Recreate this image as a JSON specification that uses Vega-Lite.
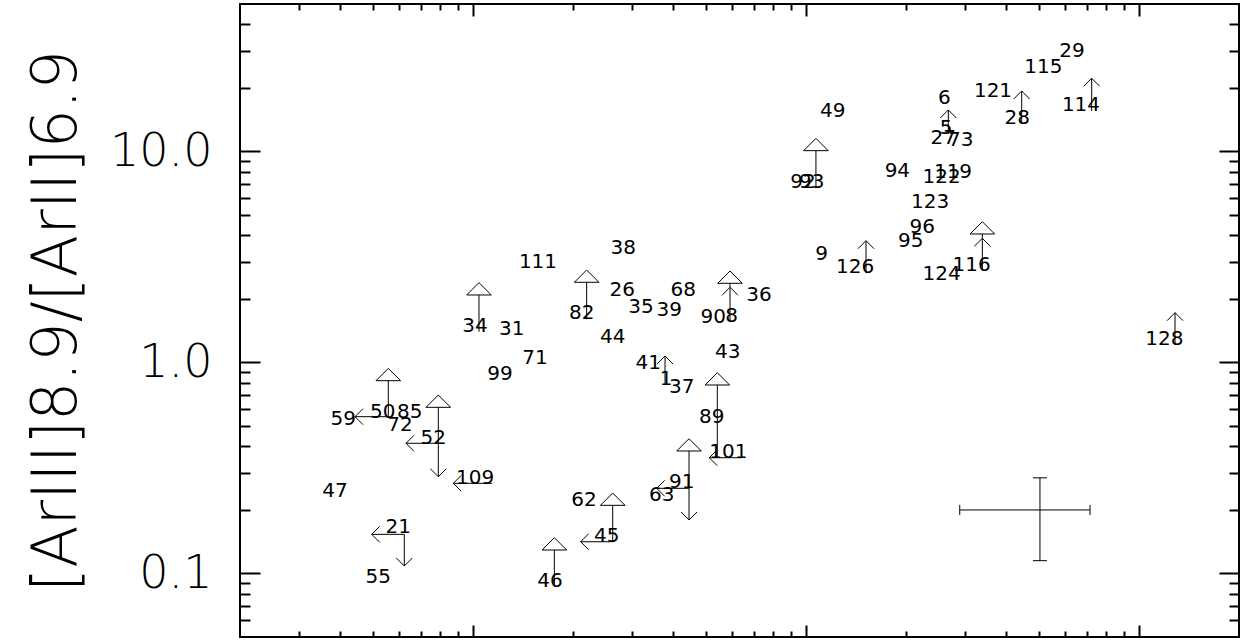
{
  "$schema": "https://vega.github.io/schema/vega-lite/v6.json",
  "width": 999,
  "height": 633,
  "autosize": {"type": "none"},
  "padding": {"left": 240, "top": 4, "right": 2, "bottom": 4},
  "background": "white",
  "config": {
    "view": {"stroke": "black", "strokeWidth": 2},
    "axis": {"grid": false, "domain": false, "tickColor": "black", "tickWidth": 2, "labelColor": "black", "titleColor": "black"}
  },
  "datasets": {
    "labels": [
      {"id": "34", "x": 0.1016, "y": 1.399},
      {"id": "31", "x": 0.1309, "y": 1.350},
      {"id": "71", "x": 0.1538, "y": 0.9804},
      {"id": "99", "x": 0.1207, "y": 0.8259},
      {"id": "50", "x": 0.05364, "y": 0.5474},
      {"id": "85", "x": 0.06466, "y": 0.5474},
      {"id": "59", "x": 0.04086, "y": 0.5055},
      {"id": "72", "x": 0.06046, "y": 0.4734},
      {"id": "52", "x": 0.07612, "y": 0.4108},
      {"id": "109", "x": 0.1016, "y": 0.2655},
      {"id": "47", "x": 0.03858, "y": 0.2311},
      {"id": "21", "x": 0.05976, "y": 0.1550},
      {"id": "55", "x": 0.05204, "y": 0.08983},
      {"id": "46", "x": 0.1706, "y": 0.08656},
      {"id": "111", "x": 0.1570, "y": 2.804},
      {"id": "38", "x": 0.2831, "y": 3.267},
      {"id": "82", "x": 0.2124, "y": 1.602},
      {"id": "26", "x": 0.2812, "y": 2.066},
      {"id": "35", "x": 0.3201, "y": 1.710},
      {"id": "39", "x": 0.3893, "y": 1.661},
      {"id": "68", "x": 0.4288, "y": 2.066},
      {"id": "90", "x": 0.5277, "y": 1.533},
      {"id": "8", "x": 0.5993, "y": 1.561},
      {"id": "36", "x": 0.7237, "y": 1.956},
      {"id": "44", "x": 0.2632, "y": 1.233},
      {"id": "43", "x": 0.5830, "y": 1.047},
      {"id": "41", "x": 0.3367, "y": 0.9284},
      {"id": "1", "x": 0.3805, "y": 0.7822},
      {"id": "37", "x": 0.4241, "y": 0.7145},
      {"id": "89", "x": 0.5219, "y": 0.5185},
      {"id": "101", "x": 0.5855, "y": 0.3537},
      {"id": "91", "x": 0.4241, "y": 0.2533},
      {"id": "63", "x": 0.3693, "y": 0.2213},
      {"id": "62", "x": 0.2158, "y": 0.2089},
      {"id": "45", "x": 0.2525, "y": 0.1414},
      {"id": "49", "x": 1.205, "y": 14.62},
      {"id": "92", "x": 0.9811, "y": 6.691},
      {"id": "93", "x": 1.042, "y": 6.691},
      {"id": "6", "x": 2.607, "y": 16.79},
      {"id": "5", "x": 2.638, "y": 12.10},
      {"id": "27", "x": 2.589, "y": 10.85},
      {"id": "73", "x": 2.922, "y": 10.62},
      {"id": "121", "x": 3.650, "y": 18.18},
      {"id": "94", "x": 1.884, "y": 7.594},
      {"id": "119", "x": 2.768, "y": 7.511},
      {"id": "122", "x": 2.560, "y": 7.067},
      {"id": "123", "x": 2.362, "y": 5.379},
      {"id": "96", "x": 2.239, "y": 4.095},
      {"id": "95", "x": 2.066, "y": 3.538},
      {"id": "9", "x": 1.116, "y": 3.060},
      {"id": "126", "x": 1.406, "y": 2.647},
      {"id": "124", "x": 2.560, "y": 2.460},
      {"id": "116", "x": 3.150, "y": 2.723},
      {"id": "29", "x": 6.303, "y": 28.13},
      {"id": "115", "x": 5.168, "y": 23.47},
      {"id": "28", "x": 4.318, "y": 13.50},
      {"id": "114", "x": 6.707, "y": 15.55},
      {"id": "128", "x": 11.93, "y": 1.210}
    ],
    "segs": [
      {"x": 0.5923, "x2": 0.5923, "y": 1.561, "y2": 2.373},
      {"x": 0.3779, "x2": 0.3779, "y": 0.7822, "y2": 1.073},
      {"x": 2.680, "x2": 2.680, "y": 12.10, "y2": 15.73},
      {"x": 1.517, "x2": 1.517, "y": 2.647, "y2": 3.777},
      {"x": 3.390, "x2": 3.390, "y": 2.723, "y2": 4.064},
      {"x": 4.451, "x2": 4.451, "y": 13.50, "y2": 19.35},
      {"x": 7.222, "x2": 7.222, "y": 15.55, "y2": 22.23},
      {"x": 12.85, "x2": 12.85, "y": 1.210, "y2": 1.722},
      {"x": 0.1044, "x2": 0.1044, "y": 1.399, "y2": 2.089},
      {"x": 0.05577, "x2": 0.05577, "y": 0.5474, "y2": 0.8197},
      {"x": 0.0788, "x2": 0.0788, "y": 0.2875, "y2": 0.6131},
      {"x": 0.1758, "x2": 0.1758, "y": 0.08656, "y2": 0.1292},
      {"x": 0.2198, "x2": 0.2198, "y": 1.602, "y2": 2.399},
      {"x": 0.5425, "x2": 0.5425, "y": 0.3537, "y2": 0.7822},
      {"x": 0.4461, "x2": 0.4461, "y": 0.1793, "y2": 0.3806},
      {"x": 0.2632, "x2": 0.2632, "y": 0.1414, "y2": 0.2104},
      {"x": 1.073, "x2": 1.073, "y": 6.691, "y2": 10.09},
      {"x": 0.06229, "x2": 0.06229, "y": 0.1533, "y2": 0.1085},
      {"x": 0.05577, "x2": 0.0443, "y": 0.5534, "y2": 0.5534},
      {"x": 0.0825, "x2": 0.06303, "y": 0.4140, "y2": 0.4140},
      {"x": 0.1142, "x2": 0.08742, "y": 0.2675, "y2": 0.2675},
      {"x": 0.06229, "x2": 0.04972, "y": 0.1533, "y2": 0.1533},
      {"x": 0.6422, "x2": 0.5132, "y": 0.3537, "y2": 0.3537},
      {"x": 0.4461, "x2": 0.3568, "y": 0.2533, "y2": 0.2533},
      {"x": 0.2632, "x2": 0.2109, "y": 0.1414, "y2": 0.1414}
    ],
    "heads": [
      {"x": 0.5923, "y": 2.272, "kind": "up"},
      {"x": 0.3779, "y": 1.073, "kind": "up"},
      {"x": 2.680, "y": 15.73, "kind": "up"},
      {"x": 1.517, "y": 3.777, "kind": "up"},
      {"x": 3.390, "y": 3.877, "kind": "up"},
      {"x": 4.451, "y": 19.35, "kind": "up"},
      {"x": 7.222, "y": 22.23, "kind": "up"},
      {"x": 12.85, "y": 1.722, "kind": "up"},
      {"x": 0.0788, "y": 0.2875, "kind": "down"},
      {"x": 0.4461, "y": 0.1793, "kind": "down"},
      {"x": 0.06229, "y": 0.1085, "kind": "down"},
      {"x": 0.0443, "y": 0.5534, "kind": "left"},
      {"x": 0.06303, "y": 0.4140, "kind": "left"},
      {"x": 0.08742, "y": 0.2675, "kind": "left"},
      {"x": 0.04972, "y": 0.1533, "kind": "left"},
      {"x": 0.5132, "y": 0.3537, "kind": "left"},
      {"x": 0.3568, "y": 0.2533, "kind": "left"},
      {"x": 0.2109, "y": 0.1414, "kind": "left"}
    ],
    "tris": [
      {"x": 0.1044, "y": 2.089},
      {"x": 0.05577, "y": 0.8197},
      {"x": 0.0788, "y": 0.6131},
      {"x": 0.1758, "y": 0.1292},
      {"x": 0.2198, "y": 2.399},
      {"x": 0.5923, "y": 2.373},
      {"x": 0.5425, "y": 0.7822},
      {"x": 0.4461, "y": 0.3806},
      {"x": 0.2632, "y": 0.2104},
      {"x": 1.073, "y": 10.09},
      {"x": 3.390, "y": 4.064}
    ],
    "err": [
      {"x": 5.05, "xlo": 2.9, "xhi": 7.14, "y": 0.2, "ylo": 0.115, "yhi": 0.284}
    ]
  },
  "layer": [
    {
      "data": {"name": "labels"},
      "mark": {"type": "text", "align": "center", "baseline": "alphabetic", "font": "DejaVu Sans", "fontSize": 20, "color": "black"},
      "encoding": {
        "x": {
          "field": "x", "type": "quantitative",
          "scale": {"type": "log", "domain": [0.02, 20], "nice": false},
          "axis": {
            "orient": "bottom", "title": null, "labels": false,
            "values": [0.03, 0.04, 0.05, 0.06, 0.07, 0.08, 0.09, 0.1, 0.2, 0.3, 0.4, 0.5, 0.6, 0.7, 0.8, 0.9, 1, 2, 3, 4, 5, 6, 7, 8, 9, 10],
            "tickSize": {"condition": {"test": "datum.value == 0.1 || datum.value == 1 || datum.value == 10", "value": -12}, "value": -6}
          }
        },
        "y": {
          "field": "y", "type": "quantitative",
          "scale": {"type": "log", "domain": [0.05, 50], "nice": false},
          "axis": {
            "orient": "left",
            "values": [0.06, 0.07, 0.08, 0.09, 0.1, 0.2, 0.3, 0.4, 0.5, 0.6, 0.7, 0.8, 0.9, 1, 2, 3, 4, 5, 6, 7, 8, 9, 10, 20, 30, 40],
            "labelExpr": "datum.value == 10 ? '10.0' : datum.value == 1 ? '1.0' : datum.value == 0.1 ? '0.1' : ''",
            "tickSize": {"condition": {"test": "datum.value == 0.1 || datum.value == 1 || datum.value == 10", "value": -20}, "value": -10},
            "labelFont": "DejaVu Sans", "labelFontSize": 46, "labelFontWeight": 200, "labelPadding": 48,
            "title": "[ArIII]8.9/[ArII]6.9", "titleFont": "DejaVu Sans", "titleFontSize": 62, "titleFontWeight": 200, "titlePadding": 21
          }
        },
        "text": {"field": "id"}
      }
    },
    {
      "data": {"name": "segs"},
      "mark": {"type": "rule", "color": "black", "strokeWidth": 1},
      "encoding": {
        "x": {
          "field": "x", "type": "quantitative",
          "axis": {
            "orient": "top", "title": null, "labels": false,
            "values": [0.03, 0.04, 0.05, 0.06, 0.07, 0.08, 0.09, 0.1, 0.2, 0.3, 0.4, 0.5, 0.6, 0.7, 0.8, 0.9, 1, 2, 3, 4, 5, 6, 7, 8, 9, 10],
            "tickSize": {"condition": {"test": "datum.value == 0.1 || datum.value == 1 || datum.value == 10", "value": -12}, "value": -6}
          }
        },
        "x2": {"field": "x2"},
        "y": {
          "field": "y", "type": "quantitative",
          "axis": {
            "orient": "right", "title": null, "labels": false,
            "values": [0.06, 0.07, 0.08, 0.09, 0.1, 0.2, 0.3, 0.4, 0.5, 0.6, 0.7, 0.8, 0.9, 1, 2, 3, 4, 5, 6, 7, 8, 9, 10, 20, 30, 40],
            "tickSize": {"condition": {"test": "datum.value == 0.1 || datum.value == 1 || datum.value == 10", "value": -20}, "value": -10}
          }
        },
        "y2": {"field": "y2"}
      }
    },
    {
      "data": {"name": "heads"},
      "mark": {"type": "point", "filled": false, "color": "black", "strokeWidth": 1, "size": 256, "opacity": 1},
      "encoding": {
        "x": {"field": "x", "type": "quantitative", "axis": null},
        "y": {"field": "y", "type": "quantitative", "axis": null},
        "shape": {
          "field": "kind", "type": "nominal", "legend": null,
          "scale": {"domain": ["up", "down", "left"], "range": ["M-1,1L0,0L1,1", "M-1,-1L0,0L1,-1", "M1,-1L0,0L1,1"]}
        }
      }
    },
    {
      "data": {"name": "tris"},
      "mark": {"type": "point", "filled": false, "color": "black", "strokeWidth": 1, "size": 605, "opacity": 1, "shape": "M0,-1L1,0L-1,0Z"},
      "encoding": {
        "x": {"field": "x", "type": "quantitative", "axis": null},
        "y": {"field": "y", "type": "quantitative", "axis": null}
      }
    },
    {
      "data": {"name": "err"},
      "mark": {"type": "rule", "color": "black", "strokeWidth": 1},
      "encoding": {
        "x": {"field": "xlo", "type": "quantitative", "axis": null},
        "x2": {"field": "xhi"},
        "y": {"field": "y", "type": "quantitative", "axis": null}
      }
    },
    {
      "data": {"name": "err"},
      "mark": {"type": "rule", "color": "black", "strokeWidth": 1},
      "encoding": {
        "x": {"field": "x", "type": "quantitative", "axis": null},
        "y": {"field": "ylo", "type": "quantitative", "axis": null},
        "y2": {"field": "yhi"}
      }
    },
    {
      "data": {"name": "err"},
      "mark": {"type": "point", "filled": false, "color": "black", "strokeWidth": 1, "size": 100, "opacity": 1, "shape": "M0,-1L0,1"},
      "encoding": {
        "x": {"field": "xlo", "type": "quantitative", "axis": null},
        "y": {"field": "y", "type": "quantitative", "axis": null}
      }
    },
    {
      "data": {"name": "err"},
      "mark": {"type": "point", "filled": false, "color": "black", "strokeWidth": 1, "size": 100, "opacity": 1, "shape": "M0,-1L0,1"},
      "encoding": {
        "x": {"field": "xhi", "type": "quantitative", "axis": null},
        "y": {"field": "y", "type": "quantitative", "axis": null}
      }
    },
    {
      "data": {"name": "err"},
      "mark": {"type": "point", "filled": false, "color": "black", "strokeWidth": 1, "size": 196, "opacity": 1, "shape": "M-1,0L1,0"},
      "encoding": {
        "x": {"field": "x", "type": "quantitative", "axis": null},
        "y": {"field": "ylo", "type": "quantitative", "axis": null}
      }
    },
    {
      "data": {"name": "err"},
      "mark": {"type": "point", "filled": false, "color": "black", "strokeWidth": 1, "size": 196, "opacity": 1, "shape": "M-1,0L1,0"},
      "encoding": {
        "x": {"field": "x", "type": "quantitative", "axis": null},
        "y": {"field": "yhi", "type": "quantitative", "axis": null}
      }
    }
  ],
  "resolve": {"axis": {"x": "independent", "y": "independent"}}
}
